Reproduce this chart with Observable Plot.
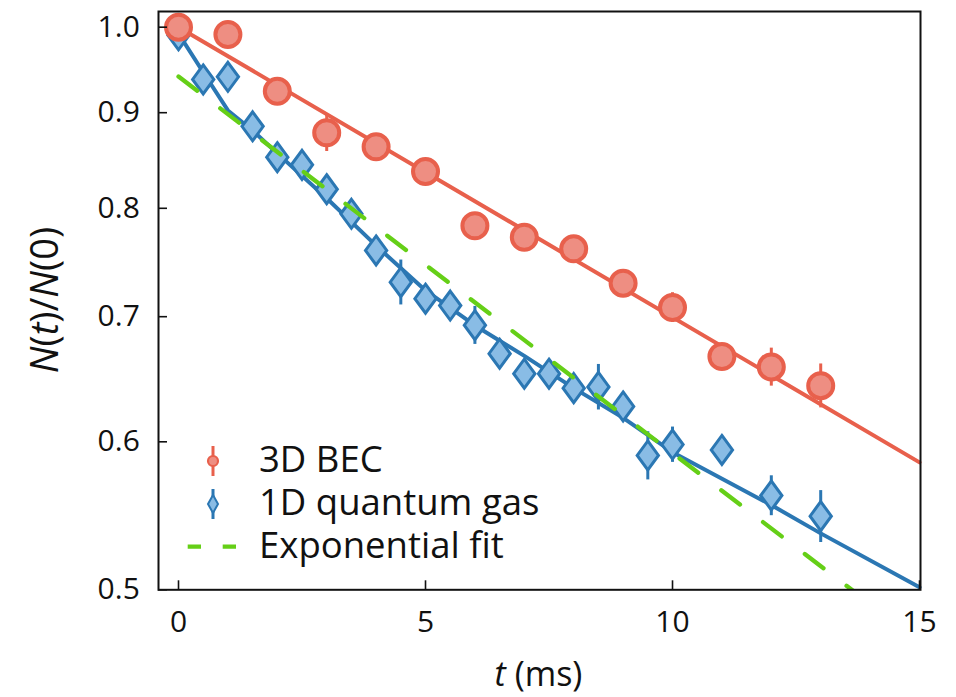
<!DOCTYPE html>
<html><head><meta charset="utf-8">
<script src="https://cdn.jsdelivr.net/npm/d3@7"></script>
<script src="https://cdn.jsdelivr.net/npm/@observablehq/plot@0.6"></script>
<style>body{margin:0;background:#fff;} svg{font-family:"Open Sans",sans-serif;}</style>
</head><body><div id="chart"></div>
<script>
// 3D BEC data
const tBEC   = [0, 1, 2, 3, 4, 5, 6, 7, 8, 9, 10, 11, 12, 13];
const nBEC   = [1.0, 0.991, 0.924, 0.878, 0.863, 0.837, 0.783, 0.772, 0.761, 0.7295, 0.708, 0.6665, 0.658, 0.643];
const eBEC   = [0.006, 0.006, 0.006, 0.02, 0.006, 0.006, 0.006, 0.006, 0.006, 0.008, 0.013, 0.009, 0.0154, 0.0174];
// 1D quantum gas data
const tGas   = [0, 0.5, 1, 1.5, 2, 2.5, 3, 3.5, 4, 4.5, 5, 5.5, 6, 6.5, 7, 7.5, 8, 8.5, 9, 9.5, 10, 11, 12, 13];
const nGas   = [0.99, 0.9376, 0.9407, 0.885, 0.852, 0.844, 0.819, 0.7946, 0.7595, 0.7304, 0.7157, 0.7097, 0.6927, 0.6688, 0.6525, 0.6525, 0.641, 0.642, 0.6267, 0.59, 0.598, 0.594, 0.5616, 0.5475];
const eGas   = [0.006, 0.006, 0.006, 0.006, 0.006, 0.006, 0.008, 0.006, 0.006, 0.0202, 0.006, 0.006, 0.0162, 0.006, 0.006, 0.006, 0.006, 0.018, 0.006, 0.0175, 0.013, 0.006, 0.0138, 0.0175];
// fit curves
const tFitBEC = [0, 15];
const nFitBEC = [1.0, 0.585];
const tFitGas = [0, 0.5, 1, 1.5, 2, 3, 4, 5, 6, 7, 8, 9, 10, 12, 13, 15];
const nFitGas = [0.992, 0.946, 0.9025, 0.8805, 0.856, 0.81, 0.764, 0.723, 0.6925, 0.667, 0.641, 0.618, 0.5924, 0.555, 0.536, 0.5015];
const tExp = [0, 15];
const nExp = [0.941, 0.4692];
// ticks and labels
const xTicks = [0, 5, 10, 15];
const yTicks = [0.5, 0.6, 0.7, 0.8, 0.9, 1.0];
const legendLabels = ["3D BEC", "1D quantum gas", "Exponential fit"];

const red = "#E8604C", redFill = "#EE8E82", blue = "#2B77B3", blueFill = "#89BCE5", green = "#65CF17";

const bec = tBEC.map((t, i) => ({t, n: nBEC[i], e: eBEC[i]}));
const gas = tGas.map((t, i) => ({t, n: nGas[i], e: eGas[i]}));
const fitBEC = tFitBEC.map((t, i) => ({t, n: nFitBEC[i]}));
const fitGas = tFitGas.map((t, i) => ({t, n: nFitGas[i]}));
const expFit = tExp.map((t, i) => ({t, n: nExp[i]}));

const diamond = {draw(ctx, size) {
  const h = Math.sqrt(size / Math.PI), w = h * 0.734;
  ctx.moveTo(0, -h); ctx.lineTo(w, 0); ctx.lineTo(0, h); ctx.lineTo(-w, 0); ctx.closePath();
}};

const W = 956, H = 697;
const chart = Plot.plot({
  width: W, height: H,
  marginLeft: 158, marginRight: 36, marginTop: 11, marginBottom: 107.7,
  style: {fontFamily: '"Open Sans", sans-serif', fontSize: "30px", background: "#fff", color: "#111"},
  x: {domain: [-0.405, 15.02]},
  y: {type: "log", domain: [0.5, 1.0195]},
  marks: [
    Plot.line(fitGas, {x: "t", y: "n", stroke: blue, strokeWidth: 4}),
    Plot.ruleX(gas, {x: "t", y1: d => d.n - d.e, y2: d => d.n + d.e, stroke: blue, strokeWidth: 3}),
    Plot.dot(gas, {x: "t", y: "n", r: 14.5, symbol: diamond, fill: blueFill, stroke: blue, strokeWidth: 3}),
    Plot.line(fitBEC, {x: "t", y: "n", stroke: red, strokeWidth: 4}),
    Plot.ruleX(bec, {x: "t", y1: d => d.n - d.e, y2: d => d.n + d.e, stroke: red, strokeWidth: 3}),
    Plot.dot(bec, {x: "t", y: "n", r: 12.5, fill: redFill, stroke: red, strokeWidth: 4}),
    Plot.line(expFit, {x: "t", y: "n", stroke: green, strokeWidth: 4.3, strokeDasharray: "23.5,29", clip: true}),
    Plot.frame({stroke: "#111", strokeWidth: 2}),
    Plot.axisX({ticks: xTicks, tickSize: -9, tickPadding: 29.7, fontSize: 30, strokeWidth: 1.6, label: null, tickFormat: d => String(d)}),
    Plot.axisY({ticks: yTicks, tickSize: -9, tickPadding: 27.7, fontSize: 30, strokeWidth: 1.6, label: null, tickFormat: d3.format(".1f")})
  ]
});
document.getElementById("chart").appendChild(chart);

const svg = d3.select(chart);
// y-axis label
const yl = svg.append("text").attr("transform", "translate(58,300) rotate(-90)")
  .attr("text-anchor", "middle").attr("font-size", 38).attr("fill", "#111");
yl.append("tspan").attr("font-style", "italic").text("N");
yl.append("tspan").text("(");
yl.append("tspan").attr("font-style", "italic").text("t");
yl.append("tspan").text(")/");
yl.append("tspan").attr("font-style", "italic").text("N");
yl.append("tspan").text("(0)");
// x-axis label
const xl = svg.append("text").attr("x", 538.5).attr("y", 686)
  .attr("text-anchor", "middle").attr("font-size", 34).attr("fill", "#111");
xl.append("tspan").attr("font-style", "italic").text("t");
xl.append("tspan").text(" (ms)");

// legend
const lg = svg.append("g");
lg.append("line").attr("x1", 213).attr("x2", 213).attr("y1", 446).attr("y2", 476).attr("stroke", red).attr("stroke-width", 3);
lg.append("circle").attr("cx", 213).attr("cy", 461).attr("r", 5).attr("fill", redFill).attr("stroke", red).attr("stroke-width", 2.2);
lg.append("line").attr("x1", 213).attr("x2", 213).attr("y1", 489).attr("y2", 519).attr("stroke", blue).attr("stroke-width", 3);
lg.append("path").attr("d", "M213,495 L218,504 L213,513 L208,504 Z").attr("fill", blueFill).attr("stroke", blue).attr("stroke-width", 2);
lg.append("line").attr("x1", 187.7).attr("x2", 237.3).attr("y1", 546.7).attr("y2", 546.7).attr("stroke", green).attr("stroke-width", 4.3).attr("stroke-dasharray", "13.3,21.7");
const ys = [472, 515, 558];
legendLabels.forEach((s, i) => {
  lg.append("text").attr("x", 259).attr("y", ys[i]).attr("text-anchor", "start").attr("font-size", 36.5).attr("fill", "#111").text(s);
});
</script>
</body></html>
